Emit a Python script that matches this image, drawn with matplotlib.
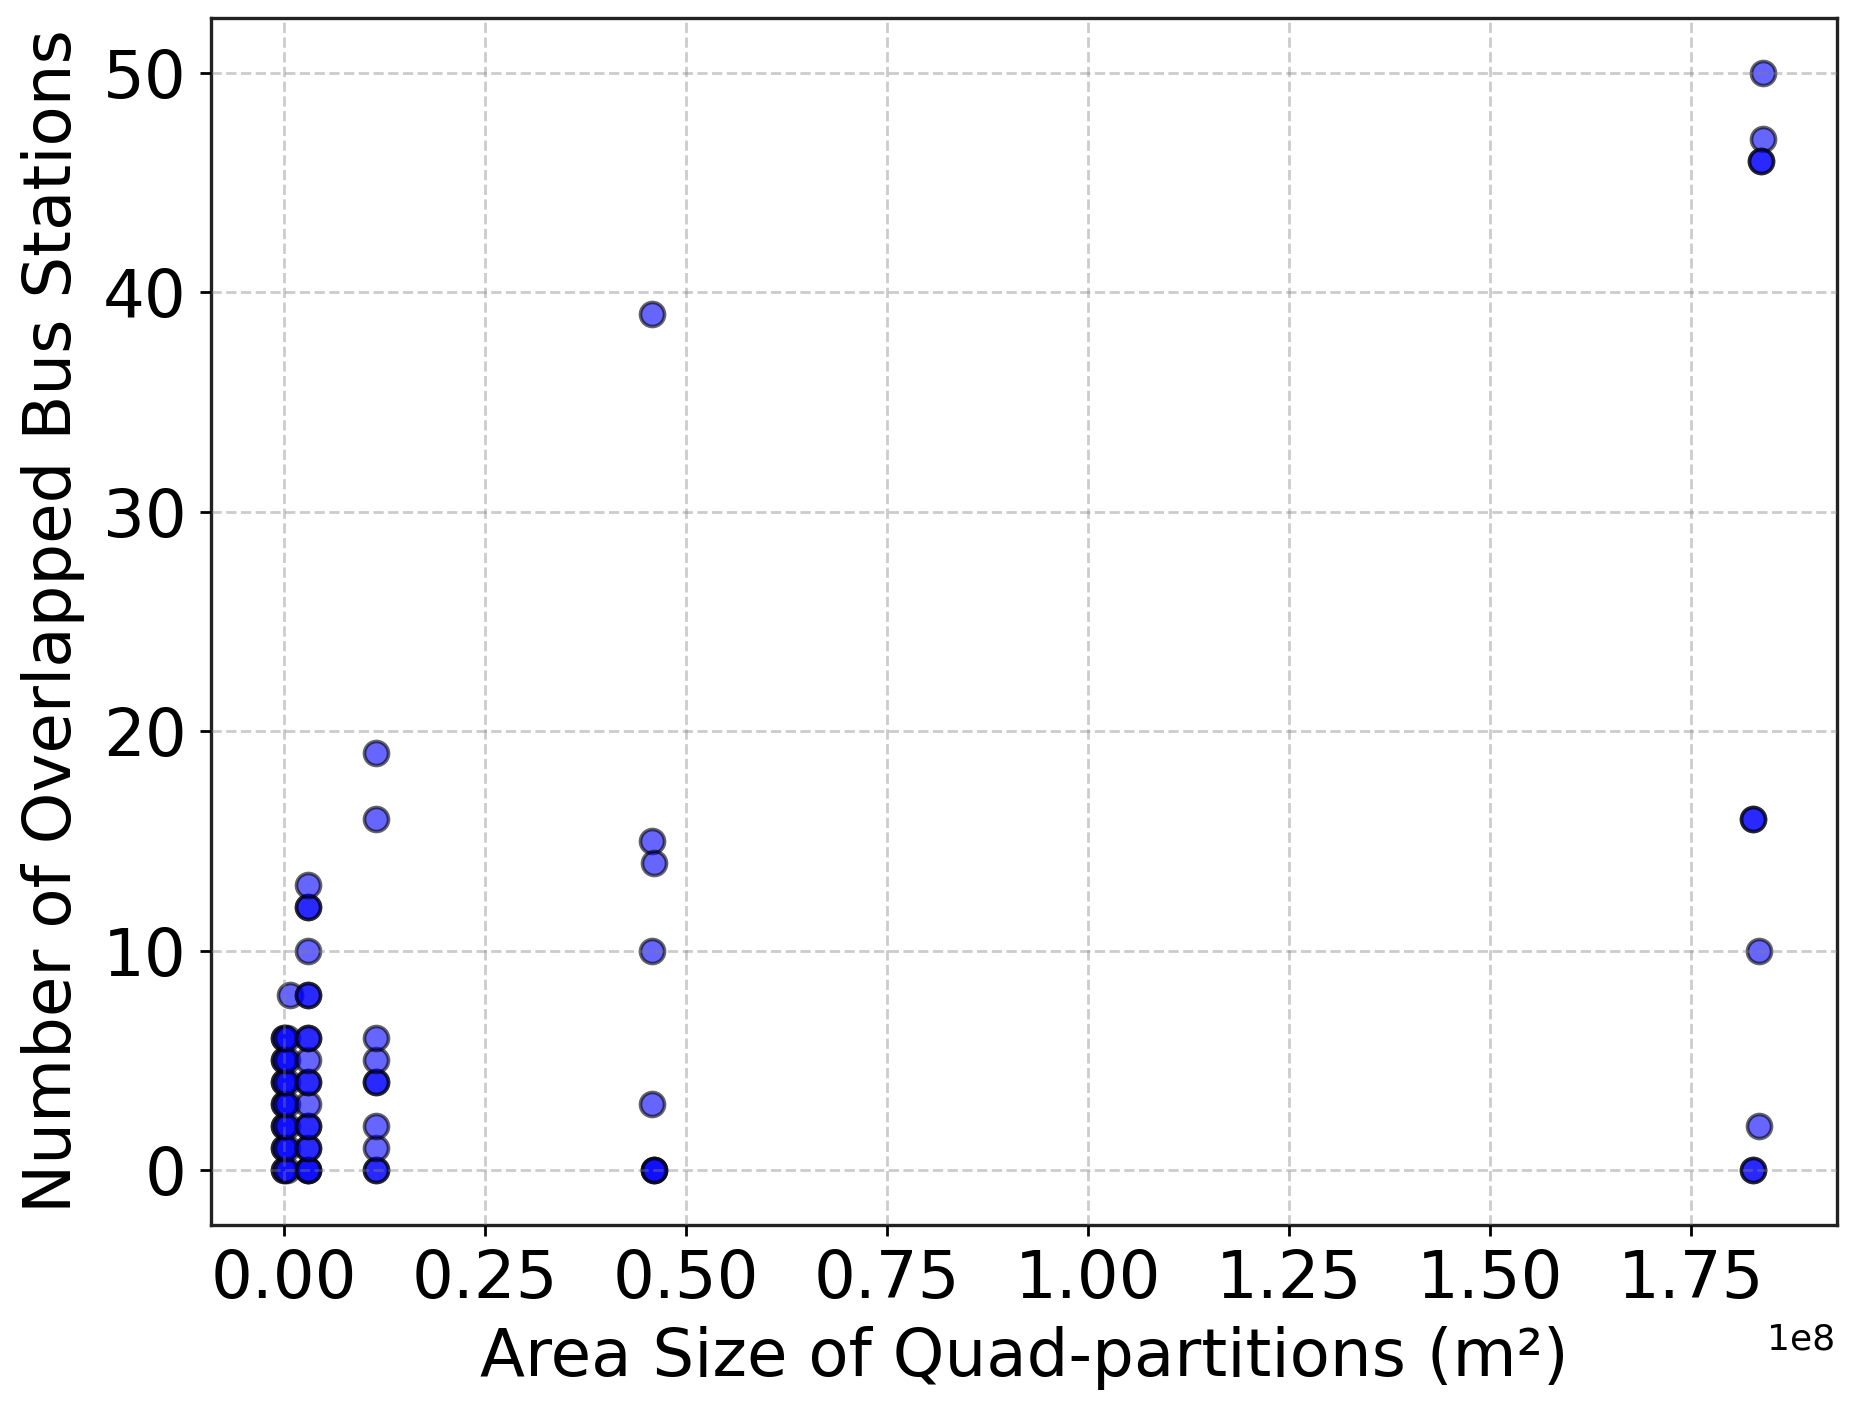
import matplotlib
matplotlib.use("Agg")
import matplotlib.pyplot as plt
from matplotlib.transforms import Affine2D

# area size of the partition (m2) and overlapped stations, repeats make the darker dots
area_col0 = [0.0, 0.0, 0.0, 0.0, 0.0, 0.0, 0.0, 0.0, 0.0, 0.0, 0.0, 0.0, 0.0, 0.0,
             4e5, 4e5, 4e5, 4e5, 4e5, 4e5, 4e5, 7e5]
stations_col0 = [0, 0, 1, 1, 2, 2, 3, 3, 4, 4, 5, 5, 6, 6,
                 0, 1, 2, 3, 4, 5, 6, 8]

area_col1 = [3e6] * 19
stations_col1 = [0, 0, 0, 1, 1, 2, 2, 3, 4, 4, 5, 6, 6, 8, 8, 10, 12, 12, 13]

area_col2 = [1.145e7] * 10
stations_col2 = [0, 0, 1, 2, 4, 4, 5, 6, 16, 19]

area_col3 = [4.575e7, 4.575e7, 4.575e7, 4.575e7, 4.6e7, 4.6e7, 4.6e7, 4.6e7]
stations_col3 = [3, 10, 15, 39, 14, 0, 0, 0]

area_col4 = [1.828e8, 1.828e8, 1.828e8, 1.828e8, 1.835e8, 1.835e8,
             1.84e8, 1.84e8, 1.837e8, 1.837e8]
stations_col4 = [0, 0, 16, 16, 2, 10, 47, 50, 46, 46]

x_ticks = [0, 0.25e8, 0.5e8, 0.75e8, 1e8, 1.25e8, 1.5e8, 1.75e8]

area = area_col0 + area_col1 + area_col2 + area_col3 + area_col4
stations = stations_col0 + stations_col1 + stations_col2 + stations_col3 + stations_col4

fig = plt.figure(figsize=(18.52, 14.08), dpi=100)
ax = fig.add_axes([211 / 1852, 1 - 1225 / 1408, 1626 / 1852, 1207 / 1408])

ax.scatter(area, stations, s=300, c="blue", alpha=0.6, edgecolors="black", linewidths=2.6, zorder=2)

ax.set_xlim(-0.091e8, 1.932e8)
ax.set_ylim(-2.5, 52.5)
ax.set_xticks(x_ticks)
ax.set_yticks([0, 10, 20, 30, 40, 50])
ax.grid(True, linestyle="--", color="gray", alpha=0.4, linewidth=2.0, zorder=3)
ax.set_axisbelow(False)

ax.tick_params(axis="both", labelsize=47.3, width=2, length=8)
ax.tick_params(axis="x", pad=8.5)
ax.tick_params(axis="y", pad=9.5)
ax.set_xlabel("Area Size of Quad-partitions (m²)", fontsize=47.3, labelpad=10)
ax.set_ylabel("Number of Overlapped Bus Stations", fontsize=47.3, labelpad=13)

# 1e8 sits a little lower and further left than the default spot
offset = ax.xaxis.get_offset_text()
offset.set_fontsize(26)
offset.set_transform(offset.get_transform() + Affine2D().translate(-2, -6))

for spine in ax.spines.values():
    spine.set_linewidth(2.4)
    spine.set_edgecolor("#222222")

fig.savefig("out.png", dpi=100)
